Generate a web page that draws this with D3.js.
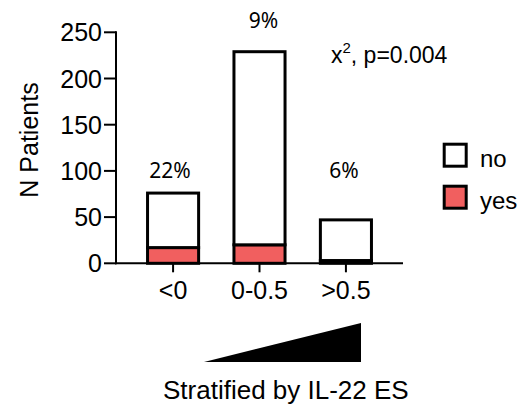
<!DOCTYPE html>
<html>
<head>
<meta charset="utf-8">
<script src="https://cdn.jsdelivr.net/npm/d3@7"></script>
<style>
  html, body { margin: 0; padding: 0; background: #fff; }
  svg { display: block; }
</style>
</head>
<body>
<svg id="chart" width="523" height="407"></svg>
<script>
// ---- data ----
const categories = ["<0", "0-0.5", ">0.5"];
const yesValues = [17, 20, 3];
const noValues = [59, 209, 44];
const percentLabels = ["22%", "9%", "6%"];
const yTicks = [0, 50, 100, 150, 200, 250];
const seriesNames = ["no", "yes"];
const seriesColors = { no: "#ffffff", yes: "#f15f5f" };

const svg = d3.select("#chart");
const font = "'Liberation Sans', Arial, Helvetica, sans-serif";

const x = d3.scaleBand().domain(categories).range([116, 403])
  .paddingInner(0.409).paddingOuter(0.365);
const y = d3.scaleLinear().domain([0, 250]).range([263.3, 32.3]);

// stacked data
const rows = categories.map((c, i) => ({ cat: c, yes: yesValues[i], no: noValues[i] }));
const stack = d3.stack().keys(["yes", "no"])(rows);

const g = svg.append("g");
stack.forEach(layer => {
  g.selectAll(null).data(layer).join("rect")
    .attr("x", d => x(d.data.cat))
    .attr("width", x.bandwidth())
    .attr("y", d => y(d[1]))
    .attr("height", d => y(d[0]) - y(d[1]))
    .attr("fill", seriesColors[layer.key])
    .attr("stroke", "#000")
    .attr("stroke-width", 3);
});

// y axis
const yAxis = svg.append("g");
yAxis.append("line").attr("x1", 116).attr("x2", 116)
  .attr("y1", y(250) - 1).attr("y2", y(0) + 1)
  .attr("stroke", "#000").attr("stroke-width", 2);
yAxis.selectAll(".yt").data(yTicks).join("line")
  .attr("x1", 104).attr("x2", 116)
  .attr("y1", d => y(d)).attr("y2", d => y(d))
  .attr("stroke", "#000").attr("stroke-width", 2);
yAxis.selectAll(".yl").data(yTicks).join("text")
  .attr("x", 102).attr("y", d => y(d))
  .attr("dy", "0.36em")
  .attr("text-anchor", "end")
  .attr("font-family", font).attr("font-size", 25)
  .text(d => d);

// x axis
const xAxis = svg.append("g");
xAxis.append("line").attr("x1", 115).attr("x2", 403)
  .attr("y1", y(0)).attr("y2", y(0))
  .attr("stroke", "#000").attr("stroke-width", 2);
xAxis.selectAll(".xt").data(categories).join("line")
  .attr("x1", d => x(d) + x.bandwidth() / 2).attr("x2", d => x(d) + x.bandwidth() / 2)
  .attr("y1", y(0)).attr("y2", y(0) + 9)
  .attr("stroke", "#000").attr("stroke-width", 2);
xAxis.selectAll(".xl").data(categories).join("text")
  .attr("x", d => x(d) + x.bandwidth() / 2).attr("y", 299)
  .attr("text-anchor", "middle")
  .attr("font-family", font).attr("font-size", 25)
  .text(d => d);

// y title
svg.append("text")
  .attr("transform", "translate(38,140) rotate(-90)")
  .attr("text-anchor", "middle")
  .attr("font-family", font).attr("font-size", 25)
  .text("N Patients");

// percent labels
const pctY = [y(92.5), y(254.5), y(92.5)];
const pctDx = [-3, 4, -2];
svg.selectAll(".pct").data(percentLabels).join("text")
  .attr("x", (d, i) => x(categories[i]) + x.bandwidth() / 2 + pctDx[i])
  .attr("y", (d, i) => pctY[i])
  .attr("text-anchor", "middle")
  .attr("font-family", "'Noto Sans', 'Open Sans', sans-serif").attr("font-size", 21)
  .text(d => d);

// chi-square annotation
const chi = svg.append("text")
  .attr("x", 331).attr("y", 63)
  .attr("font-family", font).attr("font-size", 23);
chi.append("tspan").text("x");
chi.append("tspan").attr("font-size", 15).attr("dy", -10).text("2");
chi.append("tspan").attr("dy", 10).text(", p=0.004");

// legend
const legend = svg.append("g");
seriesNames.forEach((name, i) => {
  const ly = 144.2 + i * 42;
  legend.append("rect")
    .attr("x", 444.2).attr("y", ly).attr("width", 22).attr("height", 22)
    .attr("fill", seriesColors[name]).attr("stroke", "#000").attr("stroke-width", 3);
  legend.append("text")
    .attr("x", 480).attr("y", ly + 22.5)
    .attr("font-family", font).attr("font-size", 24)
    .text(name);
});

// gradient triangle
svg.append("path")
  .attr("d", d3.line()([[204, 362], [361, 323], [361, 362]]) + "Z")
  .attr("fill", "#000");

svg.append("text")
  .attr("x", 163).attr("y", 399)
  .attr("font-family", font).attr("font-size", 26)
  .text("Stratified by IL-22 ES");
</script>
</body>
</html>
